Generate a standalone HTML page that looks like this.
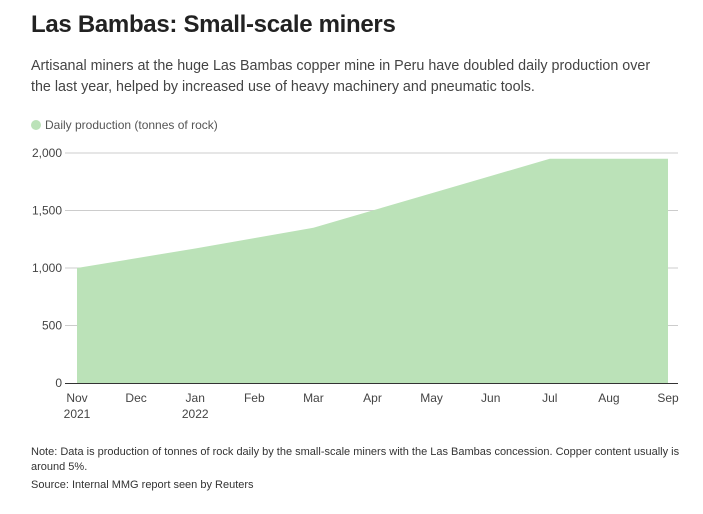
<!DOCTYPE html>
<html><head><meta charset="utf-8"><style>
body{margin:0;background:#fff;font-family:"Liberation Sans",sans-serif;}
.wrap{position:relative;width:703px;height:514px;overflow:hidden;}
h1{position:absolute;left:31px;top:11px;margin:0;font-size:24px;letter-spacing:-0.3px;font-weight:bold;color:#222;}
.sub{position:absolute;left:31px;top:56px;width:636px;font-size:14.3px;line-height:21px;color:#444;}
.leg{position:absolute;left:31px;top:118px;font-size:12px;color:#555;}
.leg span.dot{display:inline-block;width:10px;height:10px;border-radius:5px;background:#bbe2b8;margin-right:4px;vertical-align:-1px;}
.note{position:absolute;left:31px;top:445px;width:665px;font-size:11px;line-height:15px;color:#333;}
.src{position:absolute;left:31px;top:479px;font-size:11px;color:#333;}
</style></head><body><div class="wrap">
<h1>Las Bambas: Small-scale miners</h1>
<div class="sub">Artisanal miners at the huge Las Bambas copper mine in Peru have doubled daily production over the last year, helped by increased use of heavy machinery and pneumatic tools.</div>
<div class="leg"><span class="dot"></span>Daily production (tonnes of rock)</div>
<svg id="chart" width="703" height="514" style="position:absolute;left:0;top:0"></svg>
<div class="note">Note: Data is production of tonnes of rock daily by the small-scale miners with the Las Bambas concession. Copper content usually is around 5%.</div>
<div class="src">Source: Internal MMG report seen by Reuters</div>
</div>
<script>
const months=["Nov","Dec","Jan","Feb","Mar","Apr","May","Jun","Jul","Aug","Sep"];
const years=["2021","","2022","","","","","","","",""];
const values=[1000,1085,1170,1260,1350,1500,1650,1800,1950,1950,1950];
const yTicks=[0,500,1000,1500,2000];
const yTickLabels=["0","500","1,000","1,500","2,000"];
const svg=document.getElementById('chart');const NS="http://www.w3.org/2000/svg";
const x0=77,x1=668,y0=383,y1=153;
const xs=i=>x0+(x1-x0)*i/(months.length-1);
const ys=v=>y0-(y0-y1)*v/2000;
function mk(t,a){const e=document.createElementNS(NS,t);for(const k in a)e.setAttribute(k,a[k]);svg.appendChild(e);return e;}
yTicks.forEach((v,i)=>{if(v>0){const l=mk('line',{x1:65,x2:678,y1:ys(v),y2:ys(v),stroke:'#ccc','stroke-width':1});

}
const t=mk('text',{x:62,y:ys(v)+4,'text-anchor':'end','font-size':12,fill:'#444','font-family':'Liberation Sans'});t.textContent=yTickLabels[i];

});
let d=`M${xs(0)},${ys(0)}`;values.forEach((v,i)=>d+=` L${xs(i)},${ys(v)}`);d+=` L${xs(values.length-1)},${ys(0)} Z`;
const a=mk('path',{d:d,fill:'#bbe2b8'});


const ax=mk('line',{x1:65,x2:678,y1:y0+0.5,y2:y0+0.5,stroke:'#333','stroke-width':1});


months.forEach((m,i)=>{
const t=mk('text',{x:xs(i),y:402,'text-anchor':'middle','font-size':12,fill:'#444','font-family':'Liberation Sans'});t.textContent=m;


if(years[i]){const y=mk('text',{x:xs(i),y:418,'text-anchor':'middle','font-size':12,fill:'#444','font-family':'Liberation Sans'});y.textContent=years[i];

}});
</script></body></html>
